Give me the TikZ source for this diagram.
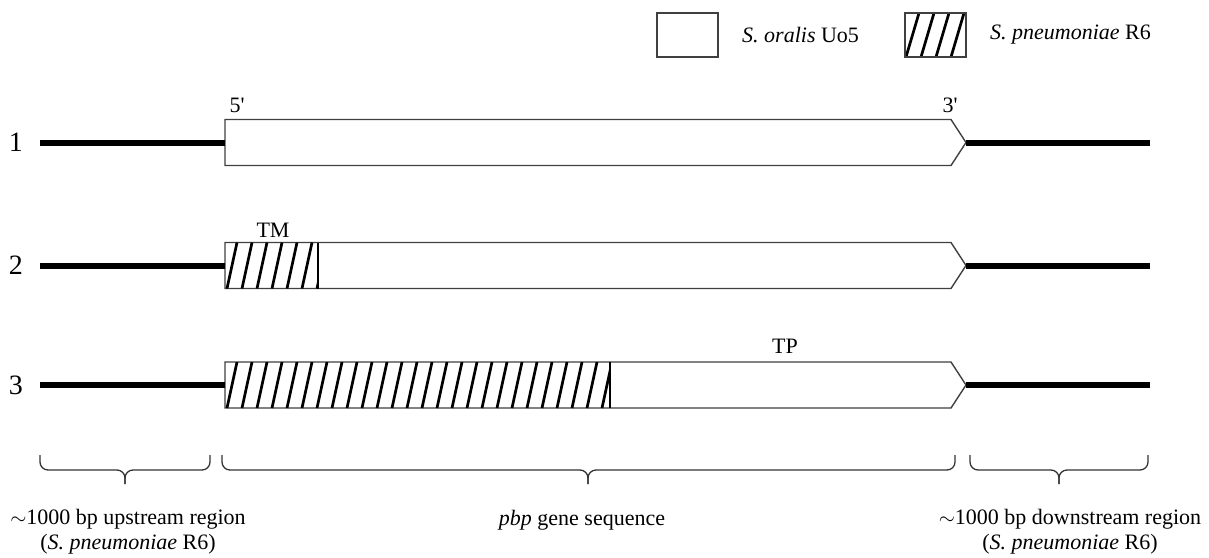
\documentclass[tikz,border=0pt]{standalone}
\usepackage{fontspec}
\setmainfont{Liberation Serif}
\usetikzlibrary{positioning}

\begin{document}
\begin{tikzpicture}[x=1pt,y=-1pt,
		   flank/.style={line width=6pt,black},
		   gene/.style={draw=black!75,line width=1.4pt,fill=white},
		   hatch/.style={line width=2.7pt,black},
		   txt/.style={font=\fontsize{22}{25}\selectfont,inner sep=0pt,align=center},
		   rownum/.style={font=\fontsize{28}{30}\selectfont,inner sep=0pt},
		   region/.style={line width=1.3pt,black!80,rounded corners=8pt}]
	\useasboundingbox (0,0) rectangle (1209,557);

	% legend
	\draw[gene,line width=2pt] (657,13) rectangle (718,57);
	\node[txt,anchor=west] (oralis) at (742,35) {\textit{S. oralis} Uo5};
	\begin{scope}
	   \clip (905,13) rectangle (966,57);
	   \foreach \k in {0,...,4} \draw[hatch] (906+\k*15,57) -- ++(13,-44);
	\end{scope}
	\draw[gene,fill=none,line width=2pt] (905,13) rectangle (966,57);
	\node[txt,anchor=west] (pneumo) at (990,35) {\textit{S. pneumoniae} R6};

	% the three constructs
	\foreach \yc/\hend [count=\r] in {142.5/225, 265.5/318, 385/610} {
	   \coordinate (up-\r) at (40,\yc);
	   \coordinate (down-\r) at (1150,\yc);
	   \node[rownum] (n-\r) at (16,\yc) {\r};
	   \draw[gene] (225,\yc-23) -- (951,\yc-23) -- (966,\yc) coordinate (tip-\r)
	       -- (951,\yc+23) -- (225,\yc+23) -- cycle;
	   \coordinate (start-\r) at (225,\yc);
	   \ifnum\r>1
	      \begin{scope}
	         \clip (225,\yc-23) rectangle (\hend,\yc+23);
	         \foreach \k in {0,...,26} \draw[hatch] (227+\k*15,\yc+23) -- ++(10,-46);
	      \end{scope}
	      \draw[hatch,line width=2pt] (\hend,\yc-23) -- (\hend,\yc+23);
	   \fi
	   \draw[flank] (up-\r) -- (start-\r);
	   \draw[flank] (tip-\r) -- (down-\r);
	}

	\node[txt] (five) at (237,105) {5\textquotesingle};
	\node[txt] (three) at (950,105) {3\textquotesingle};
	\node[txt] (tm) at (273,230) {TM};
	\node[txt] (tp) at (785,346) {TP};

	% braces under the regions
	\foreach \xa/\xb/\xm/\nm in {40/210/125/up, 222/955/588/gene, 970/1148/1059/down} {
	   \draw[region] (\xa,455) -- (\xa,470) -- (\xm,470) -- (\xm,484);
	   \draw[region] (\xb,455) -- (\xb,470) -- (\xm,470) -- (\xm,484);
	   \coordinate (b-\nm) at (\xm,484);
	}
	\node[txt] (uplab) at (128,532) {$\sim$1000 bp upstream region\\(\textit{S. pneumoniae} R6)};
	\node[txt] (genelab) at (582,520) {\textit{pbp} gene sequence};
	\node[txt] (downlab) at (1070,532) {$\sim$1000 bp downstream region\\(\textit{S. pneumoniae} R6)};
\end{tikzpicture}
\end{document}
